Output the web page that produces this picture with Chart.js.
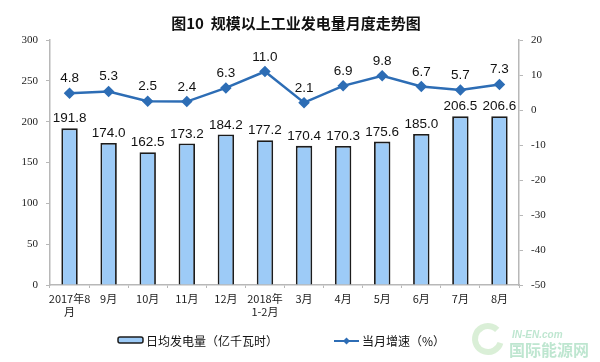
<!DOCTYPE html>
<html>
<head>
<meta charset="utf-8">
<script src="https://cdn.jsdelivr.net/npm/chart.js@4"></script>
<style>
  body { margin: 0; background: #fff; }
  #wrap { width: 600px; height: 362px; position: relative; }
</style>
</head>
<body>
<div id="wrap"><canvas id="powerChart" width="600" height="362"></canvas></div>
<script>
// data
const months = [['2017年8', '月'], '9月', '10月', '11月', '12月', ['2018年', '1-2月'], '3月', '4月', '5月', '6月', '7月', '8月'];
const dailyOutput = [191.8, 174.0, 162.5, 173.2, 184.2, 177.2, 170.4, 170.3, 175.6, 185.0, 206.5, 206.6];
const monthlyGrowth = [4.8, 5.3, 2.5, 2.4, 6.3, 11.0, 2.1, 6.9, 9.8, 6.7, 5.7, 7.3];
const leftTicks = [0, 50, 100, 150, 200, 250, 300];
const rightTicks = [-50, -40, -30, -20, -10, 0, 10, 20];

const barFill = '#9dcbf7';
const barEdge = '#1c1c1c';
const lineColor = '#2d6db5';
const axisGray = '#b8b8b8';
const cjk = '"Noto Sans CJK SC", "Noto Sans", sans-serif';
const serif = '"Liberation Serif", "DejaVu Serif", serif';

// value labels, title, legend, watermark
const extras = {
  id: 'extras',
  afterDatasetsDraw(chart) {
    const ctx = chart.ctx;
    ctx.save();
    ctx.fillStyle = '#111';
    ctx.font = '13.5px "Liberation Sans", Arial, sans-serif';
    ctx.textAlign = 'center';
    ctx.textBaseline = 'alphabetic';
    chart.getDatasetMeta(0).data.forEach((bar, i) => {
      ctx.fillText(dailyOutput[i].toFixed(1), bar.x, bar.y - 6);
    });
    chart.getDatasetMeta(1).data.forEach((pt, i) => {
      ctx.fillText(monthlyGrowth[i].toFixed(1), pt.x, pt.y - 11);
    });
    ctx.restore();
  },
  afterDraw(chart) {
    const ctx = chart.ctx;
    ctx.save();
    // title
    ctx.fillStyle = '#111';
    ctx.font = 'bold 15px ' + cjk;
    ctx.textAlign = 'center';
    ctx.textBaseline = 'middle';
    ctx.fillText('图10  规模以上工业发电量月度走势图', 296, 23);

    // legend
    ctx.font = '12px ' + cjk;
    ctx.textAlign = 'left';
    ctx.fillStyle = barFill;
    ctx.strokeStyle = barEdge;
    ctx.lineWidth = 1.5;
    ctx.beginPath();
    ctx.roundRect(118, 337, 25, 6, 2);
    ctx.fill();
    ctx.stroke();
    ctx.fillStyle = '#111';
    ctx.fillText('日均发电量（亿千瓦时）', 146, 341);

    ctx.strokeStyle = lineColor;
    ctx.lineWidth = 2;
    ctx.beginPath();
    ctx.moveTo(334, 341);
    ctx.lineTo(359, 341);
    ctx.stroke();
    ctx.fillStyle = lineColor;
    ctx.beginPath();
    ctx.moveTo(346.5, 337.5);
    ctx.lineTo(350, 341);
    ctx.lineTo(346.5, 344.5);
    ctx.lineTo(343, 341);
    ctx.closePath();
    ctx.fill();
    ctx.fillStyle = '#111';
    ctx.fillText('当月增速（%）', 362, 341);

    // faint site mark
    ctx.strokeStyle = 'rgba(150, 210, 140, 0.35)';
    ctx.lineWidth = 6;
    ctx.beginPath();
    ctx.arc(488, 339, 13, 0.3, Math.PI * 1.75);
    ctx.stroke();
    ctx.fillStyle = 'rgba(110, 200, 150, 0.45)';
    ctx.font = 'italic bold 10px "Liberation Sans", sans-serif';
    ctx.fillText('IN-EN.com', 512, 335);
    ctx.font = 'bold 16px ' + cjk;
    ctx.fillText('国际能源网', 509, 350);
    ctx.restore();
  }
};

new Chart(document.getElementById('powerChart'), {
  type: 'bar',
  data: {
    labels: months,
    datasets: [{
      type: 'bar',
      label: '日均发电量（亿千瓦时）',
      data: dailyOutput,
      backgroundColor: barFill,
      borderColor: barEdge,
      borderWidth: 1.8,
      barPercentage: 0.42,
      categoryPercentage: 1,
      yAxisID: 'y',
      order: 2
    }, {
      type: 'line',
      label: '当月增速（%）',
      data: monthlyGrowth,
      borderColor: lineColor,
      backgroundColor: lineColor,
      borderWidth: 2.5,
      pointStyle: 'rectRot',
      pointRadius: 4,
      tension: 0,
      yAxisID: 'y1',
      order: 1
    }]
  },
  options: {
    responsive: false,
    animation: false,
    layout: { padding: { top: 40, bottom: 42, left: 0, right: 0 } },
    plugins: {
      legend: { display: false },
      title: { display: false },
      tooltip: { enabled: false }
    },
    scales: {
      x: {
        offset: true,
        grid: { display: true, offset: true, drawOnChartArea: false, drawTicks: true, tickLength: 3, color: axisGray },
        border: { color: axisGray, width: 1.5 },
        ticks: {
          color: '#222',
          font: { family: cjk, size: 11 },
          maxRotation: 0,
          autoSkip: false,
          padding: 4
        },
        afterFit(scale) { scale.height = 35; }
      },
      y: {
        position: 'left',
        min: 0,
        max: 300,
        afterBuildTicks(scale) { scale.ticks = leftTicks.map(v => ({ value: v })); },
        grid: { drawOnChartArea: false, tickLength: 4, color: axisGray },
        border: { color: axisGray, width: 1.5 },
        ticks: { color: '#222', font: { family: serif, size: 11 }, padding: 8 },
        afterFit(scale) { scale.width = 50; }
      },
      y1: {
        position: 'right',
        min: -50,
        max: 20,
        afterBuildTicks(scale) { scale.ticks = rightTicks.map(v => ({ value: v })); },
        grid: { drawOnChartArea: false, tickLength: 4, color: axisGray },
        border: { color: axisGray, width: 1.5 },
        ticks: { color: '#222', font: { family: serif, size: 11 }, padding: 8 },
        afterFit(scale) { scale.width = 81; }
      }
    }
  },
  plugins: [extras]
});
</script>
</body>
</html>
